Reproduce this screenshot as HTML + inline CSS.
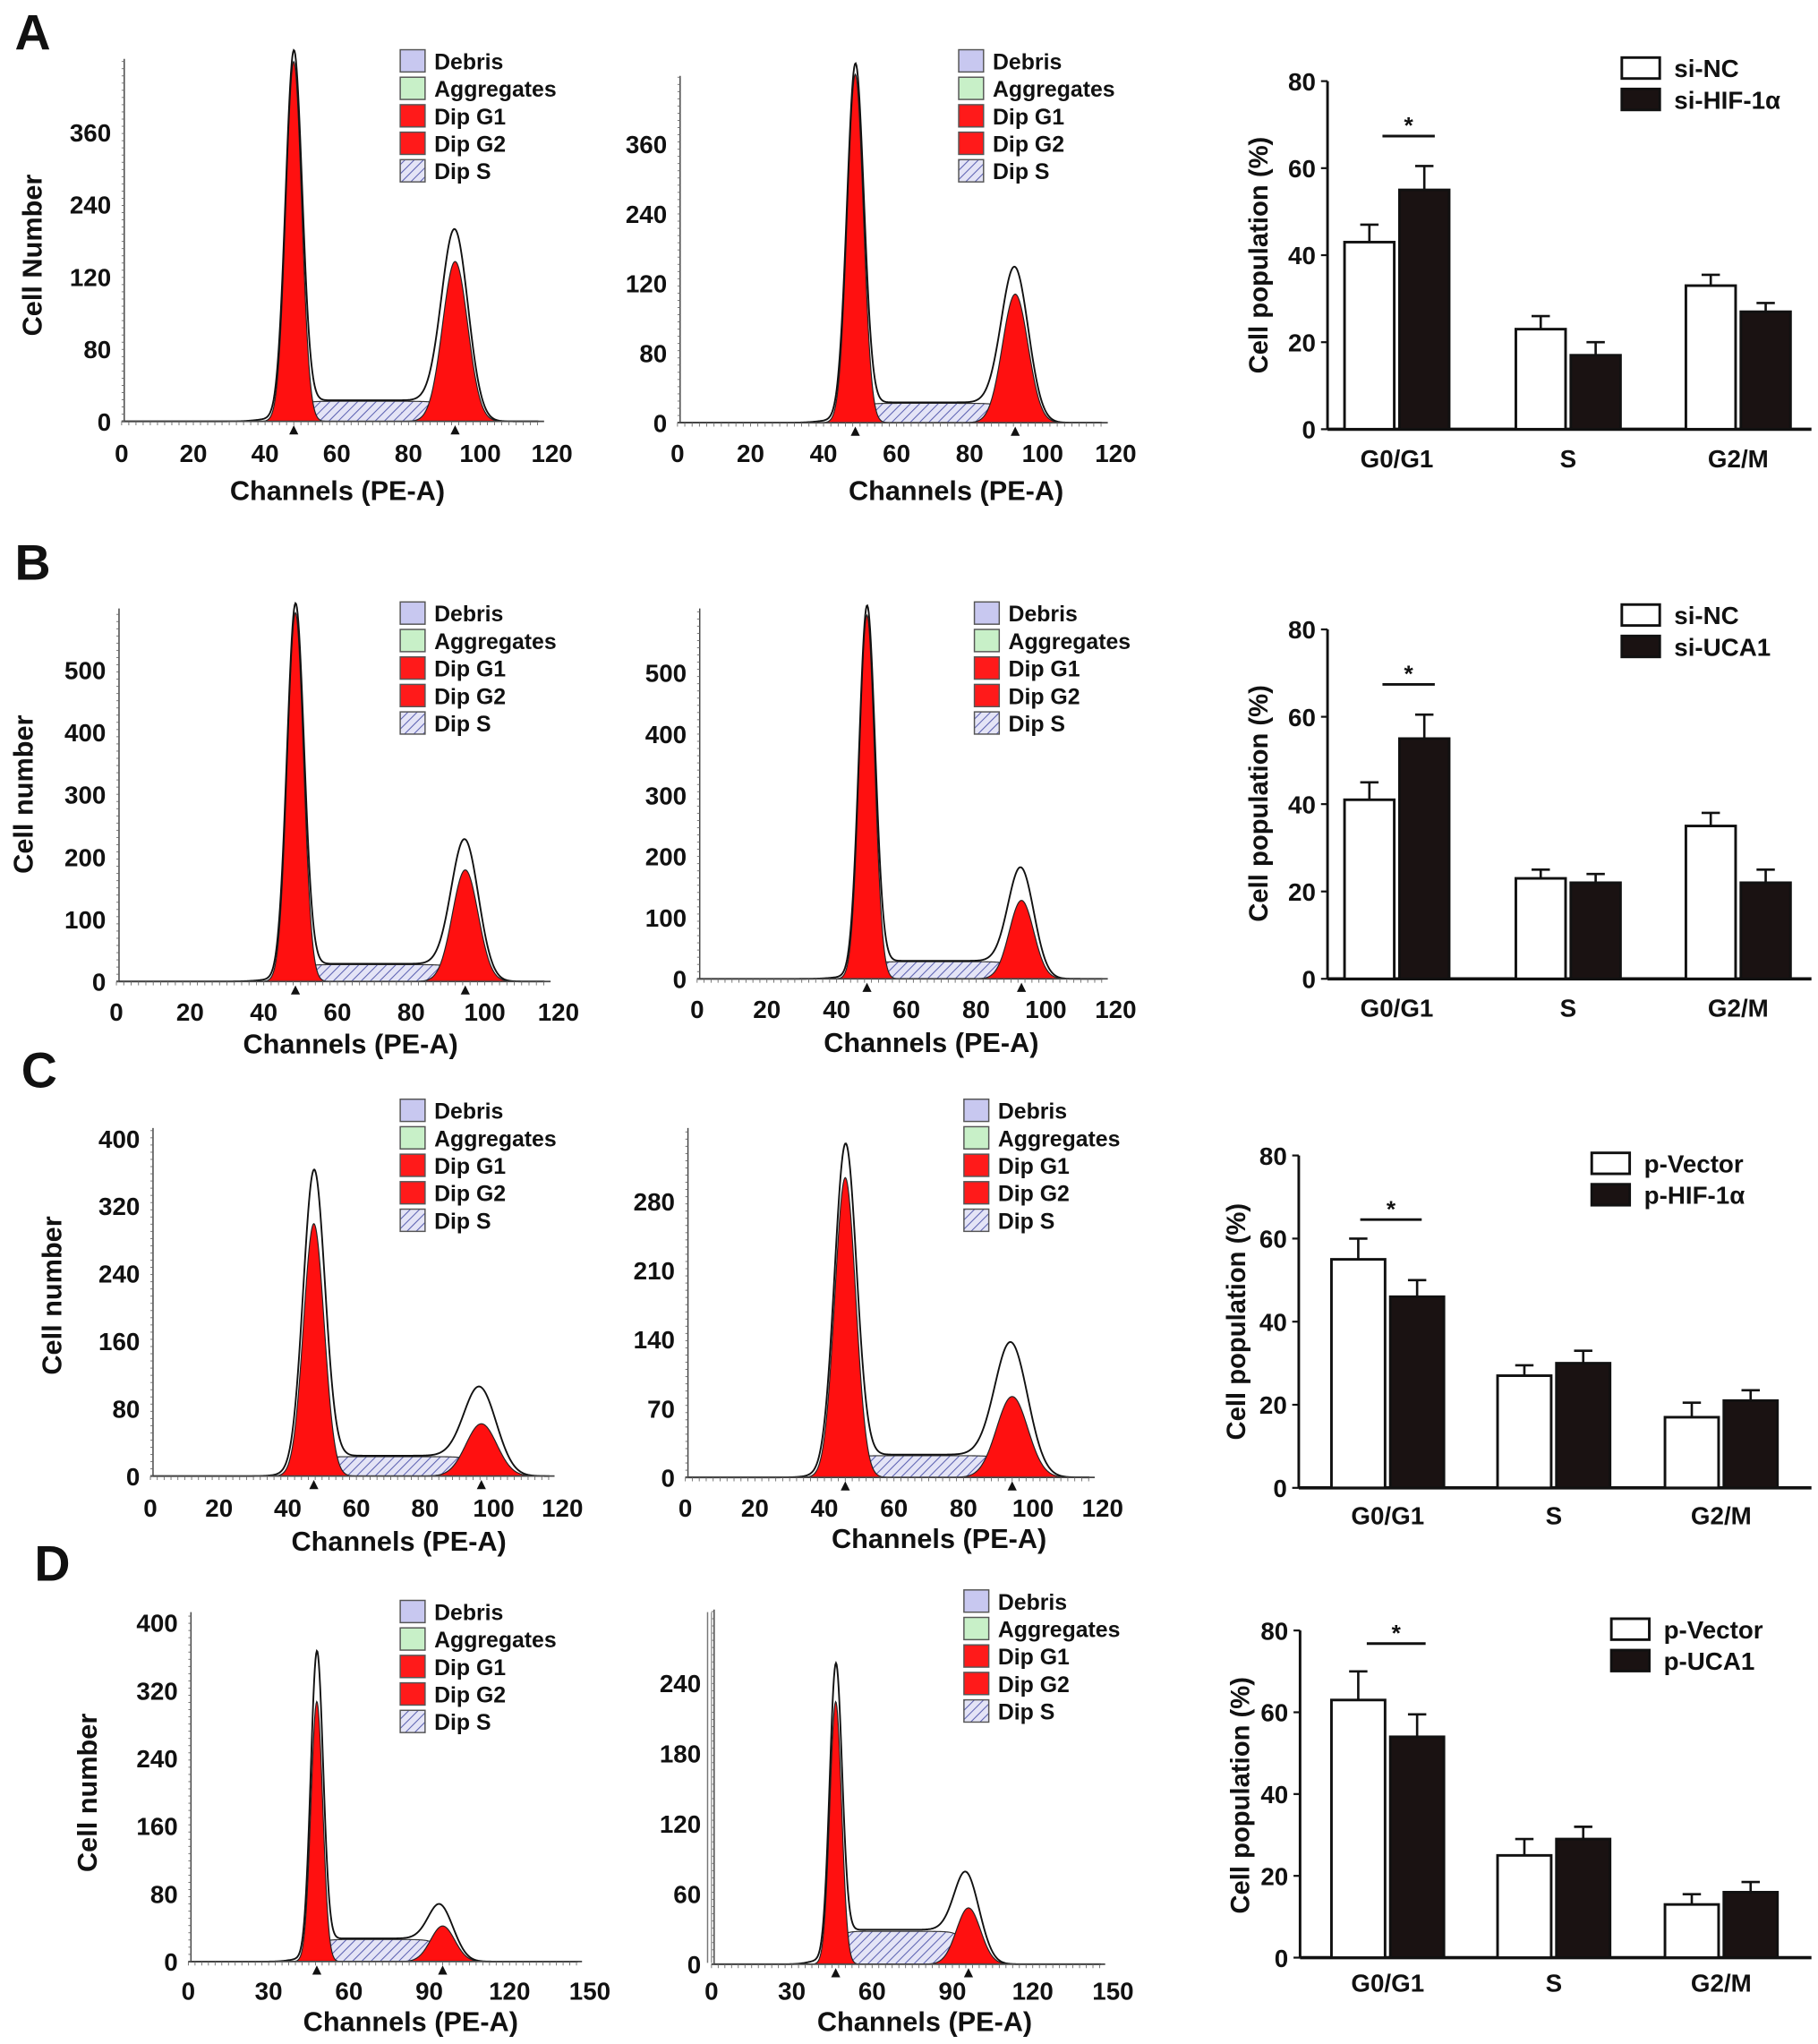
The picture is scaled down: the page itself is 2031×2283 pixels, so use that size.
<!DOCTYPE html>
<html><head><meta charset="utf-8">
<style>
html,body{margin:0;padding:0;background:#fff;}
svg{display:block;}
text{font-family:"Liberation Sans",Arial,sans-serif;font-weight:bold;fill:#111;}
</style></head>
<body>
<svg id="fig" xmlns="http://www.w3.org/2000/svg" width="2031" height="2283" viewBox="0 0 1390 1562" preserveAspectRatio="none">
<defs>
<pattern id="hatch" patternUnits="userSpaceOnUse" width="5" height="5" patternTransform="rotate(45)">
<rect width="5" height="5" fill="#e4e4f6"/>
<line x1="0" y1="0" x2="0" y2="5" stroke="#5a5fb0" stroke-width="1.4"/>
</pattern>
</defs>
<g id="root"></g>
</svg>
<script>
// ---- Histogram data (one entry per histogram panel: A1,A2,B1,B2,C1,C2,D1,D2) ----
const histG1Mean=[48,48.7,48.6,48.7,47.6,46,48,46.4];
const histG1Red=[448,450,592,594,299,304,307,224];
const histG1Out=[448,450,592,594,350,326,352,241];
const histG2Mean=[93,92.5,94.7,93,96.4,94,95,96];
const histG2Red=[199,166,179,128,62,82,42,48];
const histG2Out=[226,188,214,167,93,125,52,62];
const histS=[25,25,27,28,23,22,26,28];
const histYTickVals=[[0,90,180,270,360],[0,90,180,270,360],[0,100,200,300,400,500],[0,100,200,300,400,500],[0,80,160,240,320,400],[0,70,140,210,280],[0,80,160,240,320,400],[0,60,120,180,240]];
const histYTickLabels=[["0","80","120","240","360"],["0","80","120","240","360"],["0","100","200","300","400","500"],["0","100","200","300","400","500"],["0","80","160","240","320","400"],["0","70","140","210","280"],["0","80","160","240","320","400"],["0","60","120","180","240"]];
const histXTicks120=[0,20,40,60,80,100,120];
const histXTicks150=[0,30,60,90,120,150];
const legendLabels=["Debris","Aggregates","Dip G1","Dip G2","Dip S"];
const legendColors=["#c8c8f0","#c8f0c8","#ff1a1a","#ff1a1a","hatch"];

// ---- Bar chart data (A,B,C,D) ----
const barCategories=["G0/G1","S","G2/M"];
const barCtrlVals=[[43,23,33],[41,23,35],[55,27,17],[63,25,13]];
const barCtrlErr=[[4,3,2.5],[4,2,3],[5,2.5,3.5],[7,4,2.5]];
const barTrtVals=[[55,17,27],[55,22,22],[46,30,21],[54,29,16]];
const barTrtErr=[[5.5,3,2],[5.5,2,3],[4,3,2.5],[5.5,3,2.5]];
const barCtrlNames=["si-NC","si-NC","p-Vector","p-Vector"];
const barTrtNames=["si-HIF-1α","si-UCA1","p-HIF-1α","p-UCA1"];
const barYTicks=[0,20,40,60,80];

// ---- layout (positions only) ----
const hLay=[
 {x0:93,x1:422,xm:120,y0:322,yT:101,ym:360,top:45,lx:306,ly:47,title:"Cell Number",tx:25,ty:195,xt:258,xty:375,xl:346},
 {x0:518,x1:853,xm:120,y0:323,yT:110,ym:360,top:58,lx:733,ly:47,title:null,xt:731,xty:375,xl:346},
 {x0:89,x1:427,xm:120,y0:750,yT:512,ym:500,top:465,lx:306,ly:469,title:"Cell number",tx:18,ty:607,xt:268,xty:798,xl:773},
 {x0:533,x1:853,xm:120,y0:748,yT:514,ym:500,top:465,lx:745,ly:469,title:null,xt:712,xty:797,xl:771},
 {x0:115,x1:430,xm:120,y0:1128,yT:870,ym:400,top:862,lx:306,ly:849,title:"Cell number",tx:40,ty:990,xt:305,xty:1178,xl:1152},
 {x0:524,x1:843,xm:120,y0:1129,yT:918,ym:280,top:862,lx:737,ly:849,title:null,xt:718,xty:1176,xl:1152},
 {x0:144,x1:451,xm:150,y0:1499,yT:1240,ym:400,top:1232,lx:306,ly:1232,title:"Cell number",tx:67,ty:1370,xt:314,xty:1545,xl:1521},
 {x0:544,x1:851,xm:150,y0:1501,yT:1286,ym:240,top:1230,lx:737,ly:1224,title:null,xt:707,xty:1545,xl:1521}
];
const bLay=[
 {ax:1015,x1:1385,y0:328,y80:62,cx:[1068,1199,1329],bw:38,lx:1240,ly:52,tx:962,ty:195,cl:350,sx1:1057,sx2:1097,sy:104},
 {ax:1015,x1:1385,y0:748,y80:481,cx:[1068,1199,1329],bw:38,lx:1240,ly:470,tx:962,ty:614,cl:770,sx1:1057,sx2:1097,sy:523},
 {ax:993,x1:1385,y0:1137,y80:883,cx:[1061,1188,1316],bw:41,lx:1217,ly:889,tx:945,ty:1010,cl:1158,sx1:1040,sx2:1087,sy:932},
 {ax:994,x1:1385,y0:1496,y80:1246,cx:[1061,1188,1316],bw:41,lx:1232,ly:1245,tx:948,ty:1372,cl:1515,sx1:1045,sx2:1090,sy:1256}
];
const letters=[["A",25,25],["B",25,430],["C",30,818],["D",40,1195]];

const NS="http://www.w3.org/2000/svg";
const root=document.getElementById('root');
function mk(tag,attrs,parent,txt){const e=document.createElementNS(NS,tag);for(const k in attrs)e.setAttribute(k,attrs[k]);if(txt!==undefined)e.textContent=txt;(parent||root).appendChild(e);return e;}

letters.forEach(l=>{
 const t=mk('text',{x:l[1],y:l[2]+13,'font-size':38,'text-anchor':'middle'},root,l[0]);
 
 
});

function gauss(x,m,s){return Math.exp(-0.5*((x-m)/s)**2);}
function sig(x,a,b){const lo=1/(1+Math.exp(-(x-a)/1.5));const hi=1/(1+Math.exp((x-b)/2));return lo*hi;}

hLay.forEach((L,i)=>{
 const g=mk('g',{});
 
 
 const X=v=>L.x0+(L.x1-L.x0)*v/L.xm;
 const Y=v=>L.y0-(L.y0-L.yT)*v/L.ym;
 const s1=(i==4||i==5)?3:2.2, s2=(i>=4)?4.5:3.5;
 const m1=histG1Mean[i],m2=histG2Mean[i];
 const step=L.xm/600;
 // S phase hatched
 let d='M'+X(m1-6)+','+Y(0);
 for(let x=m1-6;x<=m2+8;x+=step){d+=' L'+X(x).toFixed(2)+','+Y(histS[i]*sig(x,m1,m2)+3*gauss(x,m1-6,4)).toFixed(2);}
 d+=' L'+X(m2+8)+','+Y(0)+'Z';
 const sp=mk('path',{d:d,fill:'url(#hatch)',stroke:'#333','stroke-width':0.8},g);
 
 
 // G1 red peak
 [[m1,s1,histG1Red[i],'dip-g1-peak'],[m2,s2,histG2Red[i],'dip-g2-peak']].forEach(p=>{
  let pd='M'+X(p[0]-4*p[1])+','+Y(0);
  for(let x=p[0]-4*p[1];x<=p[0]+4*p[1];x+=step){pd+=' L'+X(x).toFixed(2)+','+Y(p[2]*gauss(x,p[0],p[1])).toFixed(2);}
  pd+=' L'+X(p[0]+4*p[1])+','+Y(0)+'Z';
  const pe=mk('path',{d:pd,fill:'#ff1010',stroke:'#222','stroke-width':0.8},g);
  
  
 });
 // outline model
 let od='';
 for(let x=0;x<=L.xm*0.97;x+=step){
  const v=histG1Out[i]*gauss(x,m1,s1*1.05)+histG2Out[i]*gauss(x,m2,s2*1.05)+histS[i]*1.05*sig(x,m1,m2)+3*gauss(x,m1-6,4);
  od+=(od?' L':'M')+X(x).toFixed(2)+','+Y(v).toFixed(2);
 }
 const ol=mk('path',{d:od,fill:'none',stroke:'#111','stroke-width':1.3},g);
 
 
 // axes
 mk('line',{x1:L.x0+2,y1:L.top,x2:L.x0+2,y2:L.y0,stroke:'#444','stroke-width':1},g);
 mk('line',{x1:L.x0,y1:L.y0,x2:L.x1-6,y2:L.y0,stroke:'#444','stroke-width':1.2},g);
 for(let y=L.y0;y>=L.top;y-=5.5)mk('line',{x1:L.x0,y1:y,x2:L.x0+2,y2:y,stroke:'#666','stroke-width':0.6},g);
 for(let x=L.x0;x<=L.x1-6;x+=(L.x1-L.x0)/60)mk('line',{x1:x,y1:L.y0,x2:x,y2:L.y0+3,stroke:'#666','stroke-width':0.6},g);
 histYTickVals[i].forEach((v,k)=>{
  const t=mk('text',{x:L.x0-8,y:Y(v)+7,'font-size':19,'text-anchor':'end'},g,histYTickLabels[i][k]);
  
  
 });
 (L.xm==150?histXTicks150:histXTicks120).forEach(v=>{
  const t=mk('text',{x:X(v),y:L.xl+7,'font-size':19,'text-anchor':'middle'},g,String(v));
  
  
 });
 // markers
 [m1,m2].forEach(m=>mk('path',{d:`M${X(m)-3.5},${L.y0+10} L${X(m)+3.5},${L.y0+10} L${X(m)},${L.y0+3}Z`,fill:'#111'},g));
 const xt=mk('text',{x:L.xt,y:L.xty+7,'font-size':21,'text-anchor':'middle'},g,'Channels (PE-A)');
 
 
 if(L.title){
  const yt=mk('text',{x:L.tx,y:L.ty,'font-size':21,'text-anchor':'middle',transform:`rotate(-90 ${L.tx} ${L.ty}) translate(0 7)`},g,L.title);
  
  
 }
 // legend
 legendLabels.forEach((lab,k)=>{
  const y=L.ly+k*21;
  const r=mk('rect',{x:L.lx,y:y-9,width:19,height:17,fill:legendColors[k]=='hatch'?'url(#hatch)':legendColors[k],stroke:'#555','stroke-width':1},g);
  
  
  const t=mk('text',{x:L.lx+26,y:y+6,'font-size':17},g,lab);
  
  
 });
});

bLay.forEach((L,i)=>{
 const g=mk('g',{});
 
 
 const Y=v=>L.y0-(L.y0-L.y80)*v/80;
 mk('line',{x1:L.ax,y1:L.y80,x2:L.ax,y2:L.y0,stroke:'#111','stroke-width':2},g);
 mk('line',{x1:L.ax,y1:L.y0,x2:L.x1,y2:L.y0,stroke:'#111','stroke-width':2.5},g);
 barYTicks.forEach(v=>{
  mk('line',{x1:L.ax-5,y1:Y(v),x2:L.ax,y2:Y(v),stroke:'#111','stroke-width':1.5},g);
  const t=mk('text',{x:L.ax-9,y:Y(v)+7,'font-size':19,'text-anchor':'end'},g,String(v));
  
  
 });
 barCategories.forEach((c,k)=>{
  const cx=L.cx[k];
  [[barCtrlVals[i][k],barCtrlErr[i][k],'#fff',cx-L.bw-2,'bar-control-'],[barTrtVals[i][k],barTrtErr[i][k],'#1a1212',cx+2,'bar-treatment-']].forEach(b=>{
   const ec=b[3]+L.bw/2;
   mk('line',{x1:ec,y1:Y(b[0]),x2:ec,y2:Y(b[0]+b[1]),stroke:'#111','stroke-width':1.8},g);
   mk('line',{x1:ec-7,y1:Y(b[0]+b[1]),x2:ec+7,y2:Y(b[0]+b[1]),stroke:'#111','stroke-width':1.8},g);
   const r=mk('rect',{x:b[3],y:Y(b[0]),width:L.bw,height:Y(0)-Y(b[0]),fill:b[2],stroke:'#111','stroke-width':2},g);
   
   
  });
  const t=mk('text',{x:cx,y:L.cl+7,'font-size':19,'text-anchor':'middle'},g,c);
  
  
 });
 const yt=mk('text',{x:L.tx,y:L.ty,'font-size':20,'text-anchor':'middle',transform:`rotate(-90 ${L.tx} ${L.ty}) translate(0 7)`},g,'Cell population (%)');
 
 
 mk('line',{x1:L.sx1,y1:L.sy,x2:L.sx2,y2:L.sy,stroke:'#111','stroke-width':2},g);
 const st=mk('text',{x:(L.sx1+L.sx2)/2,y:L.sy-2,'font-size':18,'text-anchor':'middle'},g,'*');
 
 
 [[barCtrlNames[i],'#fff'],[barTrtNames[i],'#1a1212']].forEach((e,k)=>{
  const y=L.ly+k*24;
  const r=mk('rect',{x:L.lx,y:y-8,width:29,height:16,fill:e[1],stroke:'#111','stroke-width':2},g);
  
  
  const t=mk('text',{x:L.lx+40,y:y+7,'font-size':19},g,e[0]);
  
  
 });
});
// vertical artifact lines in D2
mk('line',{x1:541,y1:1232,x2:541,y2:1500,stroke:'#777','stroke-width':1});
mk('line',{x1:544,y1:1232,x2:544,y2:1500,stroke:'#999','stroke-width':1});
</script>
</body></html>
